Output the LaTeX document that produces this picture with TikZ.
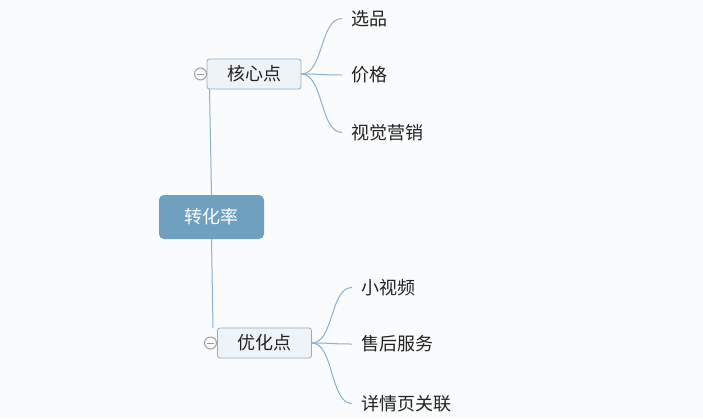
\documentclass[tikz,border=0pt]{standalone}
\usepackage{fontspec}
\setmainfont{Noto Sans CJK SC}
\definecolor{bg}{HTML}{FAFBFC}
\definecolor{rootfill}{HTML}{70A0C0}
\definecolor{subfill}{HTML}{EEF3F7}
\definecolor{subline}{HTML}{8EAEC8}
\definecolor{link}{HTML}{8EB0C8}
\definecolor{txt}{HTML}{222222}
\definecolor{knob}{HTML}{9A9A9A}
\begin{document}
\begin{tikzpicture}[x=1pt,y=-1pt,
  rootbox/.style={fill=rootfill,rounded corners=5pt,minimum width=105pt,minimum height=44pt,inner sep=0pt,text=white,font=\fontsize{18}{20}\selectfont},
  subbox/.style={fill=subfill,draw=subline,line width=0.8pt,rounded corners=2.5pt,minimum width=94pt,minimum height=30pt,inner sep=0pt,text=txt,font=\fontsize{18}{20}\selectfont},
  leaf/.style={anchor=west,inner xsep=9pt,inner ysep=0pt,text=txt,font=\fontsize{18}{20}\selectfont},
  linkline/.style={draw=link,line width=1pt},
  knobc/.style={circle,draw=knob,fill=bg,line width=0.9pt,minimum size=12pt,inner sep=0pt}
]
\fill[bg] (0,0) rectangle (703,418);
\useasboundingbox (0,0) rectangle (703,418);

\node[rootbox] (root) at (211.5,217) {转化率};
\node[subbox] (k) at (254,74) {核心点};
\node[subbox] (y) at (264.5,343) {优化点};

\node[leaf] (k1) at (342,18.5) {选品};
\node[leaf] (k2) at (342,75) {价格};
\node[leaf] (k3) at (342,132.5) {视觉营销};
\node[leaf] (y1) at (352,287.5) {小视频};
\node[leaf] (y2) at (352,344) {售后服务};
\node[leaf] (y3) at (352,403.5) {详情页关联};

\coordinate (kin) at (209.5,89);
\coordinate (yin) at (213,328);
\draw[linkline] (root.north) -- (kin);
\draw[linkline] (root.south) -- (yin);

\foreach \c in {k1,k2,k3}
  \draw[linkline] (k.east) .. controls ([xshift=22pt]k.east) and ([xshift=-22pt]\c.west) .. (\c.west);
\foreach \c in {y1,y2,y3}
  \draw[linkline] (y.east) .. controls ([xshift=22pt]y.east) and ([xshift=-22pt]\c.west) .. (\c.west);

\node[knobc] (kk) at (200.5,74) {};
\draw[knob,line width=0.9pt] ([xshift=-3.5pt]kk.center) -- ([xshift=3.5pt]kk.center);
\node[knobc] (yk) at (210.5,343) {};
\draw[knob,line width=0.9pt] ([xshift=-3.5pt]yk.center) -- ([xshift=3.5pt]yk.center);
\end{tikzpicture}
\end{document}
